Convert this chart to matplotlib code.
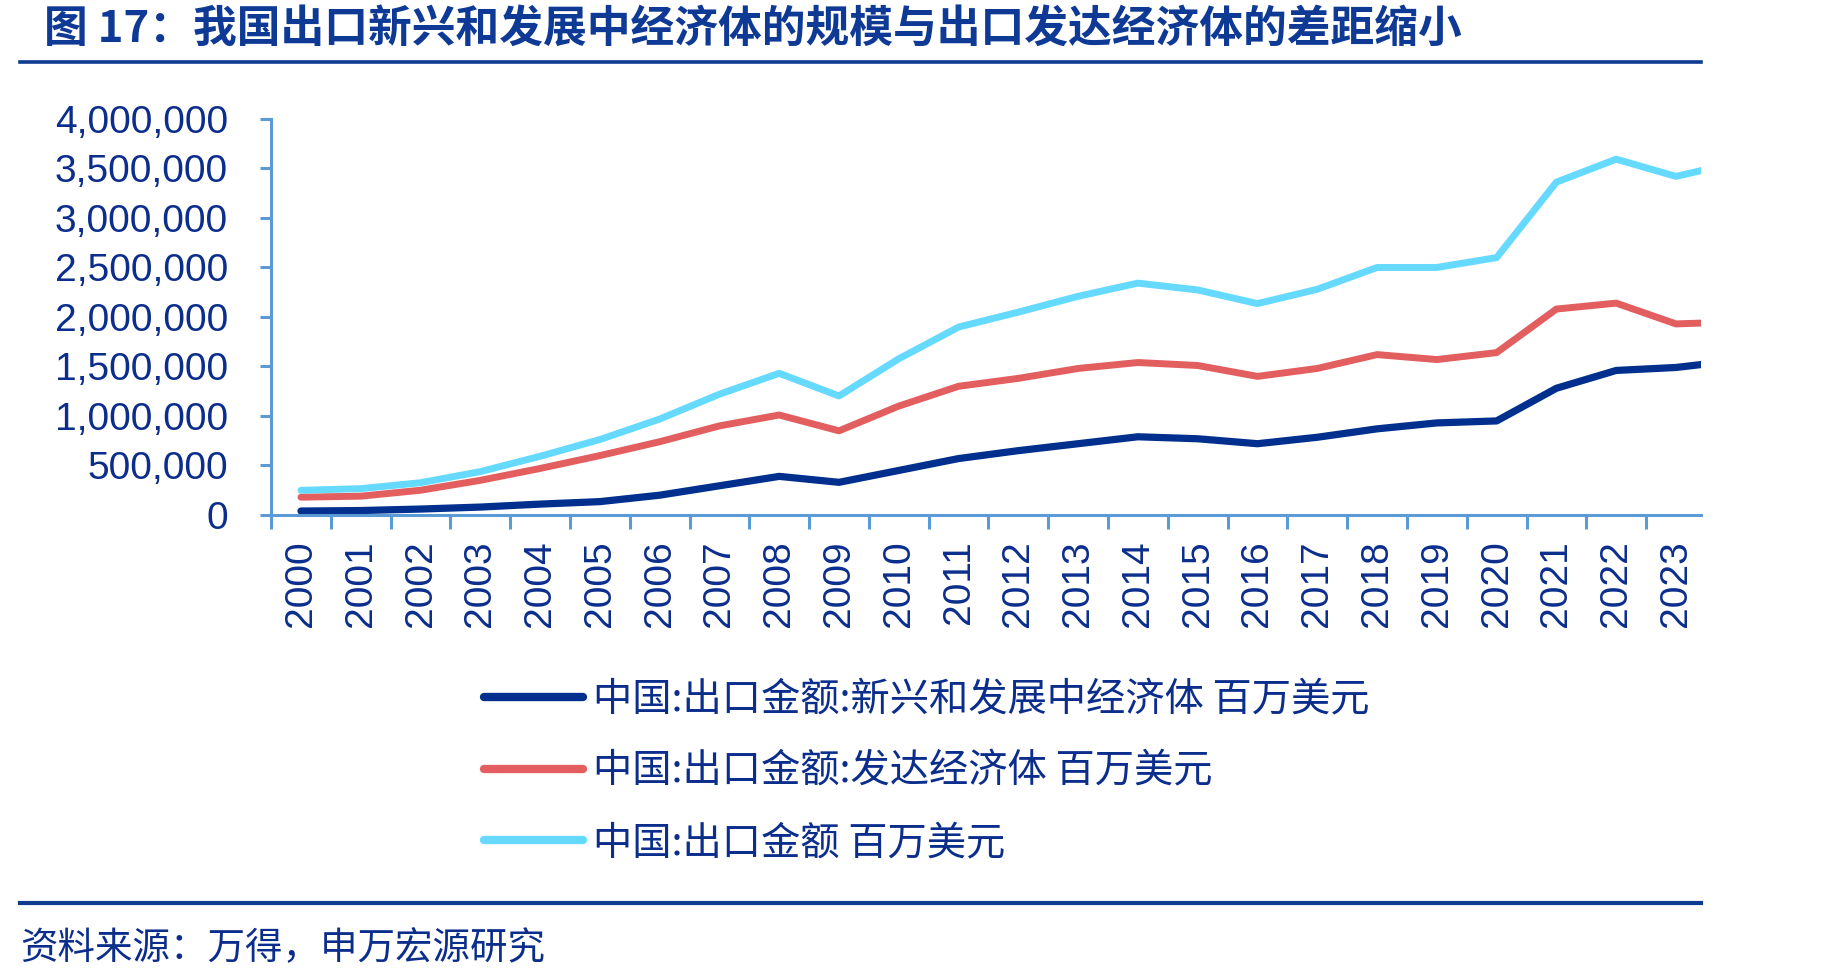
import numpy as np
import matplotlib
matplotlib.use("Agg")
import matplotlib.pyplot as plt
from matplotlib.ticker import FuncFormatter, FixedLocator

plt.rcParams['font.family'] = ['Liberation Sans', 'Noto Sans CJK SC', 'DejaVu Sans']

# data (百万美元)
years = ['2000', '2001', '2002', '2003', '2004', '2005', '2006', '2007', '2008', '2009',
         '2010', '2011', '2012', '2013', '2014', '2015', '2016', '2017', '2018', '2019',
         '2020', '2021', '2022', '2023', '2024']
emerging = [40000, 45000, 60000, 80000, 110000, 135000, 200000, 295000, 390000, 330000,
            450000, 570000, 650000, 720000, 790000, 770000, 720000, 785000, 870000, 930000,
            950000, 1280000, 1460000, 1490000, 1560000]
developed = [180000, 190000, 250000, 350000, 470000, 600000, 740000, 900000, 1010000, 850000,
             1100000, 1300000, 1380000, 1480000, 1540000, 1510000, 1400000, 1480000, 1620000, 1570000,
             1640000, 2080000, 2140000, 1930000, 1950000]
total = [249000, 266000, 326000, 438000, 593000, 762000, 969000, 1220000, 1431000, 1202000,
         1578000, 1898000, 2049000, 2209000, 2342000, 2273000, 2135000, 2280000, 2500000, 2500000,
         2600000, 3362000, 3594000, 3420000, 3560000]
names = ['中国:出口金额:新兴和发展中经济体 百万美元',
         '中国:出口金额:发达经济体 百万美元',
         '中国:出口金额 百万美元']
yticks = [0, 500000, 1000000, 1500000, 2000000, 2500000, 3000000, 3500000, 4000000]

navy = '#002F8E'
red = '#E35F5F'
cyan = '#66D9FF'
txt = '#0B2D8C'
axc = '#5B9BD5'

fig = plt.figure(figsize=(18.49, 9.8), dpi=100)
ax = fig.add_axes([0.1466, 0.4745, 0.9200 - 0.1466, 0.8786 - 0.4745])

x = np.arange(len(years))
ax.plot(x, emerging, color=navy, lw=5.2, label=names[0], solid_capstyle='round')
ax.plot(x, developed, color=red, lw=5.0, label=names[1], solid_capstyle='round')
ax.plot(x, total, color=cyan, lw=5.0, label=names[2], solid_capstyle='round')

ax.set_xlim(-0.5, 23.42)
ax.set_ylim(0, 4000000)

for s in ['top', 'right']:
    ax.spines[s].set_visible(False)
for s in ['left', 'bottom']:
    ax.spines[s].set_color(axc)
    ax.spines[s].set_linewidth(2.2)

ax.set_yticks(yticks)
ax.yaxis.set_major_formatter(FuncFormatter(lambda v, p: '{:,}'.format(int(v))))
ax.tick_params(axis='y', colors=axc, length=8, width=2.2, direction='out', pad=23,
               labelsize=28, labelcolor=txt)

# x ticks: marks between categories, labels at centres
ax.xaxis.set_major_locator(FixedLocator(np.arange(-0.5, 23.5, 1.0)))
ax.xaxis.set_major_formatter(FuncFormatter(lambda v, p: ''))
ax.xaxis.set_minor_locator(FixedLocator(x))
ax.set_xticklabels(years, minor=True)
ax.tick_params(axis='x', which='major', colors=axc, length=10, width=2.2, direction='out')
ax.tick_params(axis='x', which='minor', length=0, pad=18, labelsize=28, labelcolor=txt,
               labelrotation=90)

leg = fig.legend(loc='upper left', bbox_to_anchor=(0.262, 0.306), frameon=False,
                 fontsize=28.3, handlelength=2.5, handletextpad=0.25, labelspacing=0.8,
                 borderpad=0, borderaxespad=0)
for t in leg.get_texts():
    t.set_color(txt)
    t.set_family(['Noto Sans CJK SC', 'DejaVu Sans'])
for h in leg.get_lines():
    h.set_linewidth(6)

fig.text(0.024, 0.971, '图 17：我国出口新兴和发展中经济体的规模与出口发达经济体的差距缩小',
         fontsize=31.5, fontweight='bold', color='#0E3A96', va='center', ha='left',
         family=['Noto Sans CJK SC', 'DejaVu Sans'])
fig.add_artist(plt.Line2D([0.011, 0.920], [0.937, 0.937], color='#0E3A8F', lw=2.6))
fig.add_artist(plt.Line2D([0.011, 0.920], [0.079, 0.079], color='#0E3A8F', lw=3))
fig.text(0.011, 0.032, '资料来源：万得，申万宏源研究', fontsize=27, color=txt, va='center',
         ha='left', family=['Noto Sans CJK SC', 'DejaVu Sans'])

fig.savefig('out.png', dpi=100)
